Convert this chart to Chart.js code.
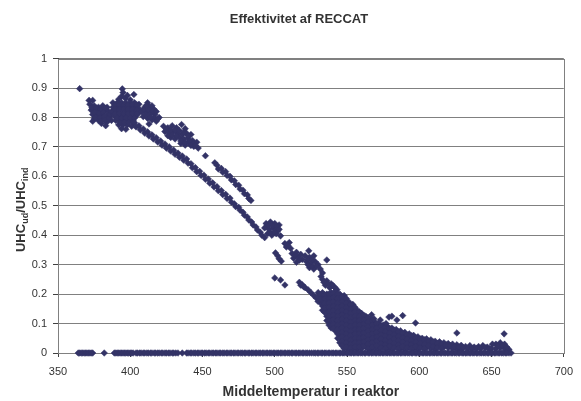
<!DOCTYPE html>
<html>
<head>
<meta charset="utf-8">
<script src="https://cdn.jsdelivr.net/npm/chart.js@4.4.1/dist/chart.umd.min.js"></script>
<style>
  html, body { margin: 0; padding: 0; background: #fff; }
  canvas { display: block; }
</style>
</head>
<body>
<canvas id="chart" width="581" height="401"></canvas>
<script>
// --- DATA ---
const xTicks = [350, 400, 450, 500, 550, 600, 650, 700];
const yTicks = [0, 0.1, 0.2, 0.3, 0.4, 0.5, 0.6, 0.7, 0.8, 0.9, 1];
const yLabels = ["0", "0.1", "0.2", "0.3", "0.4", "0.5", "0.6", "0.7", "0.8", "0.9", "1"];

// cloud at the start, 365-420 °C
const startCloud = [
    [365,0.898],[371.5,0.858],[374,0.858],
    [372,0.845],[375,0.84],[378,0.835],[381,0.84],[384,0.835],
    [373,0.825],[376,0.825],[379,0.82],[382,0.825],[385,0.82],
    [374,0.81],[377,0.805],[380,0.81],[383,0.8],[386,0.805],
    [375,0.795],[378,0.79],[381,0.795],[384,0.785],[387,0.79],
    [374,0.787],[380,0.78],[383,0.772],
    [373.5,0.833],[376.5,0.832],[379.5,0.828],[382.5,0.832],[375.5,0.817],[378.5,0.813],[381.5,0.817],
    [384.5,0.812],[376,0.8],[379,0.8],[382,0.803],[385,0.797],[379.5,0.787],[382.5,0.79],[386,0.81],[387,0.82],
    [394.5,0.897],[395,0.885],[394,0.872],[396.5,0.865],[398,0.875],[402.5,0.878],[400,0.86],[392,0.862],
    [388,0.85],[391,0.85],[394,0.85],[397,0.85],[400,0.85],[403,0.85],[406,0.845],
    [388,0.835],[391,0.835],[394,0.835],[397,0.835],[400,0.835],[403,0.835],[406,0.83],
    [388,0.82],[391,0.82],[394,0.82],[397,0.82],[400,0.82],[403,0.82],[406,0.815],
    [389,0.805],[392,0.805],[395,0.805],[398,0.805],[401,0.805],[404,0.805],
    [390,0.79],[393,0.79],[396,0.79],[399,0.79],[402,0.79],
    [392,0.775],[395,0.775],[398,0.775],[401,0.77],
    [394,0.762],[397,0.76],
    [389.5,0.843],[392.5,0.843],[395.5,0.843],[398.5,0.843],[401.5,0.843],[404.5,0.843],
    [389.5,0.828],[392.5,0.828],[395.5,0.828],[398.5,0.828],[401.5,0.828],[404.5,0.826],
    [389.5,0.813],[392.5,0.813],[395.5,0.813],[398.5,0.813],[401.5,0.813],[404.5,0.812],
    [391,0.798],[394,0.798],[397,0.798],[400,0.798],[403,0.798],
    [393,0.783],[396,0.783],[399,0.783],[402,0.783],
    [412,0.85],[410,0.835],[413,0.837],[416,0.83],[408,0.82],[411,0.818],[414,0.822],[417,0.81],
    [420,0.8],[409,0.803],[412,0.797],[415,0.792],[418,0.787],[413,0.778],
    [409.5,0.827],[412.5,0.827],[415.5,0.82],[410.5,0.81],[413.5,0.81],[416.5,0.8],[414,0.8],
    [411,0.84],[415,0.84],[418,0.82],[419,0.795]
];

// upper branch
const upperBand = [
    [423,0.77],[426,0.765],[429,0.772],[432,0.765],[435.5,0.776],[438,0.762],
    [424,0.752],[427,0.747],[430,0.752],[433,0.746],[436,0.742],[439,0.746],[442,0.742],
    [428,0.732],[431,0.727],[434,0.732],[437,0.727],[440,0.73],[443,0.722],[446,0.716],
    [435,0.712],[438,0.706],[441,0.712],[444,0.702],[447,0.696],[452,0.67],
    [425,0.76],[428,0.757],[431,0.758],[434,0.756],[437,0.75],[440,0.738],[426,0.738],[429,0.74],
    [432,0.737],[435,0.72],[438,0.716],[441,0.72],[444,0.712],[442,0.705],[445,0.705],
    [458.5,0.646],[460,0.638],[461,0.625],[463,0.627],[464,0.614],[466,0.616],[467,0.603],
    [469,0.6],[470,0.588],[472,0.585],[473,0.572],[475,0.57],[476,0.557],[478,0.553],
    [479,0.541],[481,0.537],[482,0.525],[483.5,0.518]
];

// lower branch
const lowerBand = [
    [403,0.782],[404,0.768],[406,0.772],[407,0.758],[409,0.761],[410,0.747],
    [412,0.751],[413,0.737],[415,0.741],[416,0.727],[418,0.731],[419,0.717],
    [421,0.72],[422,0.706],[424,0.71],[425,0.696],[427,0.7],[428,0.686],
    [430,0.689],[431,0.675],[433,0.679],[434,0.665],[436,0.669],[437,0.655],
    [439,0.659],[440,0.645],[442,0.643],[443,0.629],[445,0.63],[446,0.616],
    [448,0.617],[449,0.603],[451,0.604],[452,0.59],[454,0.591],[455,0.577],
    [457,0.578],[458,0.564],[460,0.565],[461,0.551],[463,0.552],[464,0.538],
    [466,0.539],[467,0.525],[469,0.526],[470,0.512],
    [472,0.507],[473,0.497],[475,0.495],[476,0.485],[478,0.478],[479,0.468],
    [481,0.462],[482,0.452],[484,0.445],[485,0.435],[487,0.428],[488,0.418],
    [490,0.41],[491,0.4],[493,0.392]
];

// patches between 490 and 545
const midCloud = [
    [494,0.44],[497,0.445],[500,0.44],[503,0.435],[493,0.425],[496,0.42],[499,0.425],[502,0.415],
    [495,0.405],[498,0.4],[501,0.405],[504,0.398],
    [495.5,0.432],[498.5,0.432],[501.5,0.43],[497,0.41],[500,0.413],[503,0.42],
    [507,0.372],[510,0.375],[508,0.36],[511,0.355],[509,0.365],
    [500.5,0.34],[502,0.33],[503,0.32],[504.5,0.312],
    [512,0.338],[515,0.342],[518,0.335],[513,0.322],[516,0.325],[519,0.318],[515,0.308],[514,0.332],[517,0.315],
    [523.5,0.347],
    [521,0.33],[524,0.325],[527,0.33],[522,0.31],[525,0.305],[528,0.31],[530,0.3],[524,0.29],[527,0.285],
    [523,0.318],[526,0.318],[526,0.295],[529,0.295],[523,0.3],
    [536,0.316],
    [500,0.255],[504,0.248],[507,0.231],
    [531.5,0.285],[533,0.272],[532,0.26],
    [533,0.25],[536,0.245],[539,0.235],[535,0.23],[538,0.222],[541,0.225],[543,0.215],
    [534,0.24],[537,0.235],[540,0.23],[542,0.22],
    [517,0.24],[518,0.23],[519,0.232],[520,0.225],[521,0.222],[523,0.215],[525,0.205],[527,0.195],
    [529,0.185],[531,0.175],[533,0.165],[535,0.155],[536,0.146]
];

// dense tail 530-662
const tailCloud = [
    [530,0.205],[530,0.19],[530,0.175],
    [533,0.205],[533,0.19],[533,0.175],[533,0.16],[533,0.145],
    [536,0.2],[536,0.185],[536,0.17],[536,0.155],[536,0.14],[536,0.125],[536,0.11],
    [539,0.205],[539,0.19],[539,0.175],[539,0.16],[539,0.145],[539,0.13],[539,0.115],[539,0.1],[539,0.085],
    [542,0.21],[542,0.195],[542,0.18],[542,0.165],[542,0.15],[542,0.135],[542,0.12],[542,0.105],[542,0.09],[542,0.075],
    [545,0.2],[545,0.185],[545,0.17],[545,0.155],[545,0.14],[545,0.125],[545,0.11],[545,0.095],[545,0.08],[545,0.065],[545,0.05],[545,0.035],
    [548,0.195],[548,0.18],[548,0.165],[548,0.15],[548,0.135],[548,0.12],[548,0.105],[548,0.09],[548,0.075],[548,0.06],[548,0.045],[548,0.03],[548,0.015],
    [551,0.175],[551,0.16],[551,0.145],[551,0.13],[551,0.115],[551,0.1],[551,0.085],[551,0.07],[551,0.055],[551,0.04],[551,0.025],[551,0.012],
    [554,0.165],[554,0.15],[554,0.135],[554,0.12],[554,0.105],[554,0.09],[554,0.075],[554,0.06],[554,0.045],[554,0.03],[554,0.015],
    [557,0.145],[557,0.13],[557,0.115],[557,0.1],[557,0.085],[557,0.07],[557,0.055],[557,0.04],[557,0.025],[557,0.012],
    [560,0.135],[560,0.12],[560,0.105],[560,0.09],[560,0.075],[560,0.06],[560,0.045],[560,0.03],[560,0.015],
    [563,0.125],[563,0.11],[563,0.095],[563,0.08],[563,0.065],[563,0.05],[563,0.035],[563,0.02],
    [566,0.115],[566,0.1],[566,0.085],[566,0.07],[566,0.055],[566,0.04],[566,0.025],[566,0.012],
    [569,0.105],[569,0.09],[569,0.075],[569,0.06],[569,0.045],[569,0.03],[569,0.015],
    [572,0.1],[572,0.085],[572,0.07],[572,0.055],[572,0.04],[572,0.025],[572,0.012],
    [575,0.095],[575,0.08],[575,0.065],[575,0.05],[575,0.035],[575,0.02],
    [578,0.09],[578,0.075],[578,0.06],[578,0.045],[578,0.03],[578,0.015],
    [581,0.085],[581,0.07],[581,0.055],[581,0.04],[581,0.025],[581,0.012],
    [584,0.08],[584,0.065],[584,0.05],[584,0.035],[584,0.02],
    [587,0.075],[587,0.06],[587,0.045],[587,0.03],[587,0.015],
    [590,0.07],[590,0.055],[590,0.04],[590,0.025],[590,0.012],
    [593,0.065],[593,0.05],[593,0.035],[593,0.02],
    [596,0.06],[596,0.045],[596,0.03],[596,0.015],
    [599,0.055],[599,0.04],[599,0.025],[599,0.012],
    [602,0.05],[602,0.035],[602,0.02],
    [605,0.048],[605,0.033],[605,0.018],
    [608,0.045],[608,0.03],[608,0.015],
    [611,0.04],[611,0.025],[611,0.012],
    [614,0.038],[614,0.022],[617,0.035],[617,0.02],[620,0.032],[620,0.018],
    [623,0.03],[623,0.015],[626,0.028],[626,0.014],[629,0.026],[629,0.012],
    [632,0.022],[635,0.025],[638,0.02],[641,0.022],[644,0.025],[647,0.02],[650,0.015],
    [653,0.03],[653,0.015],[656,0.035],[656,0.018],[659,0.03],[659,0.015],[662,0.012]
];

// in-between points of the same tail
const tailFill = [
    [531.5,0.198],[531.5,0.183],
    [534.5,0.198],[534.5,0.183],[534.5,0.168],[534.5,0.153],[534.5,0.138],
    [537.5,0.2],[537.5,0.185],[537.5,0.17],[537.5,0.155],[537.5,0.14],[537.5,0.125],[537.5,0.11],[537.5,0.095],
    [540.5,0.203],[540.5,0.188],[540.5,0.173],[540.5,0.158],[540.5,0.143],[540.5,0.128],[540.5,0.113],[540.5,0.098],[540.5,0.083],
    [543.5,0.2],[543.5,0.185],[543.5,0.17],[543.5,0.155],[543.5,0.14],[543.5,0.125],[543.5,0.11],[543.5,0.095],[543.5,0.08],[543.5,0.065],[543.5,0.05],
    [546.5,0.19],[546.5,0.175],[546.5,0.16],[546.5,0.145],[546.5,0.13],[546.5,0.115],[546.5,0.1],[546.5,0.085],[546.5,0.07],[546.5,0.055],[546.5,0.04],[546.5,0.025],
    [549.5,0.185],[549.5,0.17],[549.5,0.155],[549.5,0.14],[549.5,0.125],[549.5,0.11],[549.5,0.095],[549.5,0.08],[549.5,0.065],[549.5,0.05],[549.5,0.035],[549.5,0.02],
    [552.5,0.165],[552.5,0.15],[552.5,0.135],[552.5,0.12],[552.5,0.105],[552.5,0.09],[552.5,0.075],[552.5,0.06],[552.5,0.045],[552.5,0.03],[552.5,0.018],
    [555.5,0.155],[555.5,0.14],[555.5,0.125],[555.5,0.11],[555.5,0.095],[555.5,0.08],[555.5,0.065],[555.5,0.05],[555.5,0.035],[555.5,0.02],
    [558.5,0.14],[558.5,0.125],[558.5,0.11],[558.5,0.095],[558.5,0.08],[558.5,0.065],[558.5,0.05],[558.5,0.035],[558.5,0.02],
    [561.5,0.128],[561.5,0.113],[561.5,0.098],[561.5,0.083],[561.5,0.068],[561.5,0.053],[561.5,0.038],[561.5,0.023],
    [564.5,0.12],[564.5,0.105],[564.5,0.09],[564.5,0.075],[564.5,0.06],[564.5,0.045],[564.5,0.03],[564.5,0.015],
    [567.5,0.11],[567.5,0.095],[567.5,0.08],[567.5,0.065],[567.5,0.05],[567.5,0.035],[567.5,0.02],
    [570.5,0.1],[570.5,0.085],[570.5,0.07],[570.5,0.055],[570.5,0.04],[570.5,0.025],
    [573.5,0.092],[573.5,0.077],[573.5,0.062],[573.5,0.047],[573.5,0.032],[573.5,0.017],
    [576.5,0.088],[576.5,0.073],[576.5,0.058],[576.5,0.043],[576.5,0.028],[576.5,0.015],
    [579.5,0.083],[579.5,0.068],[579.5,0.053],[579.5,0.038],[579.5,0.023],
    [582.5,0.078],[582.5,0.063],[582.5,0.048],[582.5,0.033],[582.5,0.018],
    [585.5,0.072],[585.5,0.057],[585.5,0.042],[585.5,0.027],[585.5,0.015],
    [588.5,0.067],[588.5,0.052],[588.5,0.037],[588.5,0.022],
    [591.5,0.062],[591.5,0.047],[591.5,0.032],[591.5,0.018],
    [594.5,0.058],[594.5,0.043],[594.5,0.028],[594.5,0.015],
    [597.5,0.052],[597.5,0.037],[597.5,0.022],
    [600.5,0.048],[600.5,0.033],[600.5,0.018],
    [603.5,0.045],[603.5,0.03],[603.5,0.015],
    [606.5,0.04],[606.5,0.025],[609.5,0.038],[609.5,0.022],[612.5,0.033],[612.5,0.018],
    [615.5,0.03],[615.5,0.015],[618.5,0.028],[621.5,0.025],[624.5,0.022],[627.5,0.02],
    [630.5,0.018],[633.5,0.015],[636.5,0.015],[639.5,0.015],[642.5,0.015],[645.5,0.018],
    [648.5,0.015],[654.5,0.025],[657.5,0.025],[660.5,0.02]
];

// loose points above the tail
const strays = [
    [568.6,0.116],[567,0.13],[573,0.112],[577,0.1],[579,0.122],[581,0.125],[584.5,0.112],
    [588.5,0.127],[597.4,0.102],[626,0.068],[658.7,0.065],[650.6,0.03]
];

// points lying on the zero line (y = 0)
const zeroX = [
    364,366,368,370,372,374,382,390,392,394,396,398,400,402,404,406.5,409,411.5,414,416.5,
    419,421.5,424,426.5,429,431.5,436,439,441.5,444,446.5,449,451.5,454,456.5,459,461.5,
    464,466.5,469,471.5,474,476.5,479,481.5,484,486.5,489,491.5,494,496.5,499,501.5,504,
    506.5,509,511.5,514,516.5,519,521.5,524,527,529.5,532,534.5,537,539.5,542,544.5,547,
    549.5,552,554.5,557,559.5,562,564.5,567,569.5,572,574.5,577,579.5,582,584.5,587,589.5,
    592,594.5,597,599.5,602,604.5,607,609.5,612,614.5,617,619.5,622,624.5,627,629.5,632,
    634.5,637,639.5,642,644.5,647,649.5,652,654.5,657,659.5,662
];
const zeroX2 = [
    365,367,369,371,373,389,391,393,395,397,399,401,405,407.5,410,412.5,415,417.5,420,422.5,
    425,427.5,430,433,440,442.5,445,447.5,450,452.5,455,457.5,460,462.5,465,467.5,470,472.5,
    475,477.5,480,482.5,485,487.5,490,492.5,495,497.5,500,502.5,505,507.5,510,512.5,515,517.5,
    520,522.5,525.5,528,530.5,533,535.5,538,540.5,543,545.5,548,550.5,553,555.5,558,560.5,563,
    565.5,568,570.5,573,575.5,578,580.5,583,585.5,588,590.5,593,595.5,598,600.5,603,605.5,608,
    610.5,613,615.5,618,620.5,623,625.5,628,630.5,633,635.5,638,640.5,643,645.5,648,650.5,653,
    655.5,658,660.5,663.5
];

const FONT = "'Liberation Sans', Arial, sans-serif";
const TEXT = "#333333";
const MARK = "#333366";

const points = [...startCloud, ...upperBand, ...lowerBand, ...midCloud, ...tailCloud, ...tailFill, ...strays]
    .map(([x, y]) => ({ x, y }))
    .concat([...zeroX, ...zeroX2].map(x => ({ x, y: 0 })));

// plot area frame (right edge)
const frame = {
    id: 'frame',
    beforeDatasetsDraw(chart) {
        const { ctx, chartArea: a } = chart;
        ctx.save();
        ctx.strokeStyle = '#808080';
        ctx.lineWidth = 1;
        ctx.strokeRect(Math.round(a.left) + 0.5, Math.round(a.top) + 0.5,
            Math.round(a.right - a.left), Math.round(a.bottom - a.top));
        ctx.restore();
    }
};

// y axis title with subscripts
const yTitle = {
    id: 'yTitle',
    afterDraw(chart) {
        const { ctx, chartArea: a } = chart;
        const parts = [["UHC", false], ["ud", true], ["/UHC", false], ["ind", true]];
        ctx.save();
        ctx.translate(20, (a.top + a.bottom) / 2 + 4);
        ctx.rotate(-Math.PI / 2);
        ctx.fillStyle = TEXT;
        ctx.textBaseline = 'alphabetic';
        let w = 0;
        parts.forEach(([t, sub]) => {
            ctx.font = sub ? `bold 9px ${FONT}` : `bold 13px ${FONT}`;
            w += ctx.measureText(t).width;
        });
        let x = -w / 2;
        parts.forEach(([t, sub]) => {
            ctx.font = sub ? `bold 9px ${FONT}` : `bold 13px ${FONT}`;
            ctx.fillText(t, x, sub ? 7.5 : 4.5);
            x += ctx.measureText(t).width;
        });
        ctx.restore();
    }
};

new Chart(document.getElementById("chart"), {
    type: "scatter",
    data: {
        datasets: [{
            data: points,
            pointStyle: "rectRot",
            pointRadius: 3.3,
            pointHoverRadius: 3.3,
            backgroundColor: MARK,
            borderColor: MARK,
            borderWidth: 0.5,
            clip: false
        }]
    },
    options: {
        responsive: false,
        animation: false,
        events: [],
        layout: { padding: { left: 28, right: 11, top: 0, bottom: 0 } },
        plugins: {
            legend: { display: false },
            tooltip: { enabled: false },
            title: {
                display: true,
                text: "Effektivitet af RECCAT",
                color: TEXT,
                font: { family: FONT, size: 13, weight: "bold" },
                padding: { top: 12, bottom: 31 }
            }
        },
        scales: {
            x: {
                type: "linear",
                min: 350,
                max: 700,
                afterBuildTicks: s => { s.ticks = xTicks.map(v => ({ value: v })); },
                afterFit: s => { s.height = 48; },
                ticks: { color: TEXT, font: { family: FONT, size: 11 }, padding: 8, maxRotation: 0 },
                grid: { drawOnChartArea: false, tickLength: 4, color: "#404040" },
                border: { color: "#404040" },
                title: {
                    display: true,
                    text: "Middeltemperatur i reaktor",
                    color: TEXT,
                    font: { family: FONT, size: 14, weight: "bold" },
                    padding: { top: 6, bottom: 0 }
                }
            },
            y: {
                min: 0,
                max: 1,
                afterBuildTicks: s => { s.ticks = yTicks.map(v => ({ value: v })); },
                afterFit: s => { s.width = 30; },
                ticks: {
                    color: TEXT,
                    font: { family: FONT, size: 11 },
                    padding: 6,
                    callback: (v, i) => yLabels[i]
                },
                grid: { color: "#808080", tickColor: "#404040", tickLength: 5 },
                border: { color: "#404040" }
            }
        }
    },
    plugins: [frame, yTitle]
});
</script>
</body>
</html>
